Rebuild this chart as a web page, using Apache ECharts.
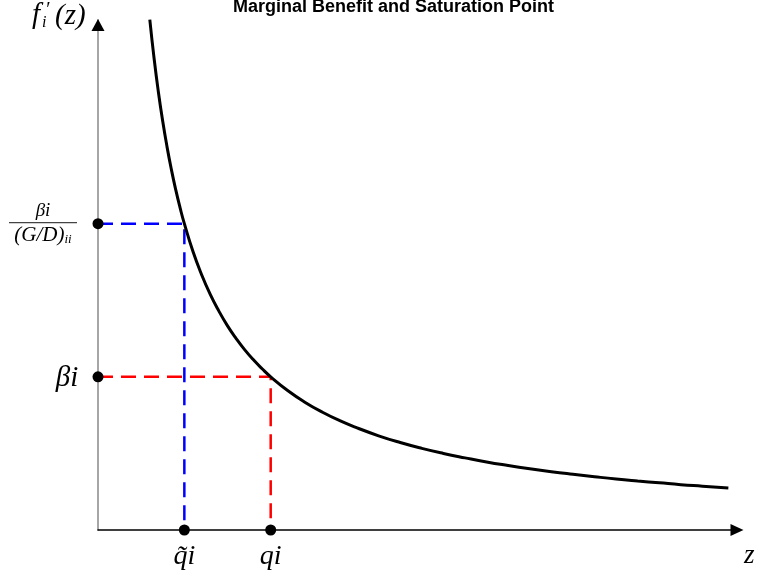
<!DOCTYPE html>
<html>
<head>
<meta charset="utf-8">
<script src="https://cdn.jsdelivr.net/npm/echarts@6/dist/echarts.min.js"></script>
<style>
html,body{margin:0;padding:0;background:#fff;}
#c{width:757px;height:575px;}
</style>
</head>
<body>
<div id="c"></div>
<script>
// ---- data ----
const curveZ = [0.6,0.65,0.7,0.75,0.8,0.85,0.9,0.95,1.0,1.1,1.2,1.3,1.4,1.5,1.6,1.7,1.8,1.9,2.0,2.2,2.4,2.6,2.8,3.0,3.25,3.5,3.75,4.0,4.25,4.5,4.75,5.0,5.25,5.5,5.75,6.0,6.25,6.5,6.75,7.0,7.3];
const curveF = [3.333,3.077,2.857,2.667,2.5,2.353,2.222,2.105,2.0,1.818,1.667,1.538,1.429,1.333,1.25,1.176,1.111,1.053,1.0,0.909,0.833,0.769,0.714,0.667,0.615,0.571,0.533,0.5,0.471,0.444,0.421,0.4,0.381,0.364,0.348,0.333,0.32,0.308,0.296,0.286,0.274];
const qTilde = 1;          // \tilde q_i
const qPoint = 2;          // q_i
const betaLevel = 1;       // beta_i
const betaRatioLevel = 2;  // beta_i / (G/D)_ii
const xMax = 7.4;
const yMax = 3.33;
const titleText = 'Marginal Benefit and Saturation Point';

const serif = '"Liberation Serif", "DejaVu Serif", serif';
const chart = echarts.init(document.getElementById('c'), null, {renderer: 'canvas'});

const curveData = curveZ.map((z, i) => [z, curveF[i]]);
const blueData = [[0, betaRatioLevel], [qTilde, betaRatioLevel], [qTilde, 0]];
const redData = [[0, betaLevel], [qPoint, betaLevel], [qPoint, 0]];
const dotData = [[0, betaRatioLevel], [0, betaLevel], [qTilde, 0], [qPoint, 0]];

chart.setOption({
  animation: false,
  backgroundColor: '#fff',
  title: {
    text: titleText,
    left: 233, top: -2, padding: 0,
    textStyle: {fontFamily: '"Liberation Sans", Arial, sans-serif', fontWeight: 'bold', fontSize: 18, color: '#000'}
  },
  grid: {left: 98, right: 20, top: 20, bottom: 45},
  xAxis: {
    type: 'value', min: 0, max: xMax,
    axisLine: {show: true, symbol: ['none', 'triangle'], symbolSize: [12, 13], lineStyle: {color: '#000', width: 1.5}},
    axisTick: {show: false},
    splitLine: {show: false},
    axisLabel: {
      customValues: [qTilde, qPoint],
      margin: 13,
      formatter: v => v === qTilde ? 'q\u0303i' : 'qi',
      fontFamily: serif, fontStyle: 'italic', fontSize: 28, color: '#000'
    }
  },
  yAxis: {
    type: 'value', min: 0, max: yMax,
    axisLine: {show: true, lineStyle: {color: '#888', width: 1.5}},
    axisTick: {show: false},
    splitLine: {show: false},
    axisLabel: {
      customValues: [betaLevel, betaRatioLevel],
      margin: 55,
      align: 'center',
      formatter: v => v === betaLevel ? '{b|βi}' : '{n|βi}\n{bar| }\n{d|(G/D)}{dd|ii}',
      rich: {
        b: {fontFamily: serif, fontStyle: 'italic', fontSize: 29, color: '#000', padding: [4, 0, 0, 48]},
        n: {fontFamily: serif, fontStyle: 'italic', fontSize: 19, color: '#000', lineHeight: 20},
        bar: {fontSize: 1, lineHeight: 4, height: 1.3, width: 68, backgroundColor: '#444'},
        d: {fontFamily: serif, fontStyle: 'italic', fontSize: 21, color: '#000', lineHeight: 22},
        dd: {fontFamily: serif, fontStyle: 'italic', fontSize: 13, color: '#000', lineHeight: 22, padding: [8, 0, 0, 0]}
      }
    }
  },
  graphic: [
    {type: 'text', left: 32, top: 1, style: {text: 'f', font: 'italic 29px ' + serif, fill: '#000'}},
    {type: 'text', left: 45, top: 1, style: {text: '′', font: 'italic 20px ' + serif, fill: '#000'}},
    {type: 'text', left: 42, top: 15, style: {text: 'i', font: 'italic 16px ' + serif, fill: '#000'}},
    {type: 'text', left: 55, top: 2, style: {text: '(z)', font: 'italic 29px ' + serif, fill: '#000'}},
    {type: 'text', left: 744, top: 542, style: {text: 'z', font: 'italic 27px ' + serif, fill: '#000'}}
  ],
  series: [
    {
      type: 'line', data: blueData, showSymbol: false, symbol: 'none',
      lineStyle: {color: '#0000ff', width: 2.5, type: [15, 8]}, z: 3, clip: false
    },
    {
      type: 'line', data: redData, showSymbol: false, symbol: 'none',
      lineStyle: {color: '#ff0000', width: 2.5, type: [15, 8]}, z: 3, clip: false
    },
    {
      type: 'line', data: curveData, smooth: 0.5, showSymbol: false, symbol: 'none',
      lineStyle: {color: '#000', width: 3}, z: 4, clip: true
    },
    {
      type: 'scatter', data: dotData, symbol: 'circle', symbolSize: 11,
      itemStyle: {color: '#000', opacity: 1}, z: 6, clip: false
    },
    {
      type: 'scatter', data: [[0, yMax]], symbol: 'triangle', symbolSize: [13, 12], symbolOffset: [0, 5],
      itemStyle: {color: '#000', opacity: 1}, z: 6, clip: false, silent: true
    }
  ]
});
</script>
</body>
</html>
